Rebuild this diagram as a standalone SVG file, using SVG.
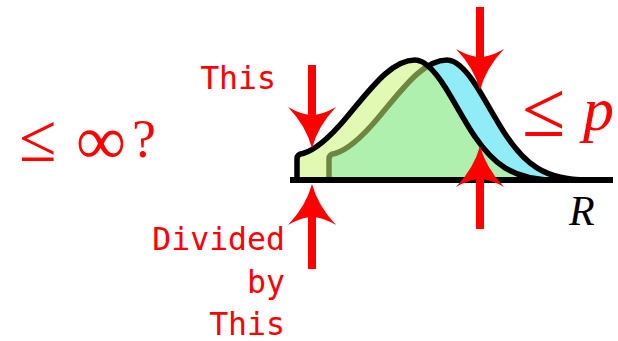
<svg xmlns="http://www.w3.org/2000/svg" xmlns:xlink="http://www.w3.org/1999/xlink" width="618" height="341" viewBox="0 0 618 341">
<style>
.dist{stroke:#000;stroke-width:5.5;stroke-linejoin:round}
.shaft{stroke:#ff0000;stroke-width:8}
.head{fill:#ff0000}
.mono{font-family:"DejaVu Sans Mono","Liberation Mono",monospace;font-size:31.5px;fill:#ff0000}
.tex{font-family:"Liberation Serif","DejaVu Serif",serif;fill:#ff0000}
</style>
<defs>
<path id="dshape" d="M297,180 L297,159 Q297,154 303,153.5 C317,149.3 331,135.7 345,119.2 C358.3,103.5 371.7,85.9 385,74.1 C395,65.3 405,60 415,60 C425,60 435,71.2 445,87 C455,102.8 465,122.1 475,136.8 C485,151.5 495,161.7 505,167.9 C521.7,178.2 538.3,180 555,180 Z"/>
<path id="ah" d="M0,0 Q6,22 24,41 Q10,33 0,33 Q-10,33 -24,41 Q-6,22 0,0 Z"/>
</defs>
<g id="curve-right">
<use xlink:href="#dshape" class="dist" fill="#90ecf6" transform="translate(32,0)"/>
</g>
<g id="curve-left">
<use xlink:href="#dshape" class="dist" fill="#c8f473" fill-opacity="0.55"/>
</g>
<g id="axis">
<line x1="290" y1="180" x2="613" y2="180" stroke="#000" stroke-width="6"/>
</g>
<g id="connectors">
<line class="shaft" x1="312" y1="65" x2="312" y2="120"/>
<use xlink:href="#ah" class="head" transform="translate(312,148) rotate(180)"/>
<line class="shaft" x1="312" y1="210" x2="312" y2="269"/>
<use xlink:href="#ah" class="head" transform="translate(312,184)"/>
<line class="shaft" x1="480" y1="7" x2="480" y2="62"/>
<use xlink:href="#ah" class="head" transform="translate(480,90) rotate(180)"/>
<line class="shaft" x1="480" y1="172" x2="480" y2="229"/>
<use xlink:href="#ah" class="head" transform="translate(480,146)"/>
</g>
<g id="label-this-top">
<text class="mono" x="276" y="89" text-anchor="end">This</text>
</g>
<g id="label-divided">
<text class="mono" text-anchor="end"><tspan x="285" y="250">Divided</tspan><tspan x="285" y="293">by</tspan><tspan x="285" y="335">This</tspan></text>
</g>
<g id="label-le-inf">
<text class="tex"><tspan x="19" y="161" font-size="68">≤</tspan><tspan x="76" y="164" font-size="70">∞</tspan><tspan x="132" y="157" font-size="54">?</tspan></text>
</g>
<g id="label-le-p">
<text class="tex"><tspan x="522" y="136" font-size="79">≤</tspan><tspan x="583" y="130" font-size="62" font-style="italic">p</tspan></text>
</g>
<g id="label-R">
<text class="tex" font-size="42" font-style="italic" style="fill:#000" x="569" y="225">R</text>
</g>
</svg>
